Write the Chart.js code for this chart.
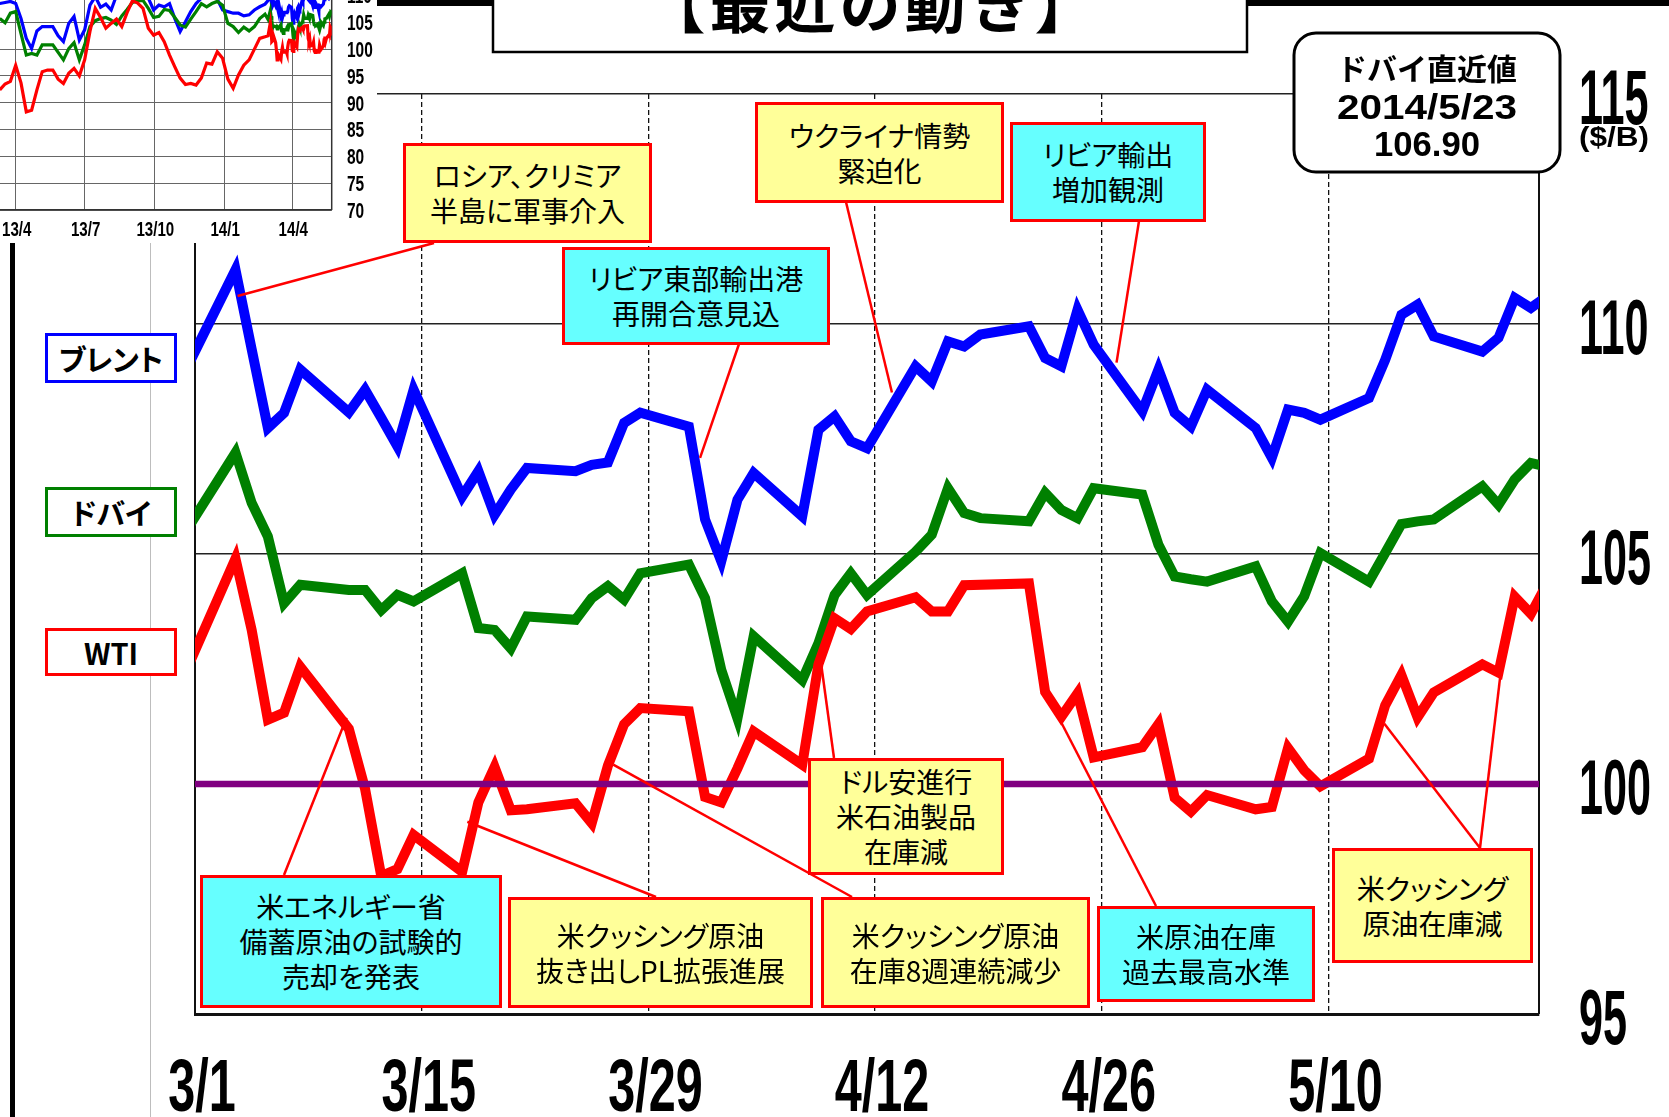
<!DOCTYPE html>
<html lang="ja"><head><meta charset="utf-8">
<script src="https://cdn.jsdelivr.net/npm/chart.js@4.4.1/dist/chart.umd.min.js"></script>
<style>
*{box-sizing:border-box}
html,body{margin:0;padding:0;background:#fff}
body{width:1669px;height:1117px;position:relative;overflow:hidden;font-family:"Noto Sans CJK JP","Noto Sans",sans-serif;}
#mainCanvas{position:absolute;left:0;top:0;z-index:0}
#insetBg{position:absolute;left:0;top:0;width:377px;height:243px;background:#fff;z-index:1}
#insetCanvas{position:absolute;left:-20px;top:-40px;z-index:2}
.vline{position:absolute;z-index:1}
.note{position:absolute;border:3px solid #ff0000;display:flex;flex-direction:column;align-items:center;justify-content:center;font-size:28px;line-height:35px;color:#000;font-feature-settings:"palt";z-index:3;white-space:nowrap}
.legend{position:absolute;left:45px;width:132px;border:3px solid;background:#fff;display:flex;align-items:center;justify-content:center;font-weight:bold;font-size:29px;font-feature-settings:"palt";z-index:3;color:#000}
</style></head><body>
<canvas id="mainCanvas" width="1669" height="1117"></canvas>
<div class="vline" style="left:10px;top:243px;width:5px;height:874px;background:#000"></div>
<div class="vline" style="left:150px;top:243px;width:1px;height:874px;background:#bdbdbd"></div>
<div id="insetBg"></div>
<canvas id="insetCanvas" width="420" height="290"></canvas>
<script>
// ---------------- data (main chart, 2014) ----------------
const dates = ['2/28','3/3','3/4','3/5','3/6','3/7','3/10','3/11','3/12','3/13','3/14','3/17','3/18','3/19','3/20','3/21','3/24','3/25','3/26','3/27','3/28','3/31','4/1','4/2','4/3','4/4','4/7','4/8','4/9','4/10','4/11','4/14','4/15','4/16','4/17','4/18','4/21','4/22','4/23','4/24','4/25','4/28','4/29','4/30','5/1','5/2','5/5','5/6','5/7','5/8','5/9','5/12','5/13','5/14','5/15','5/16','5/19','5/20','5/21','5/22','5/23'];
const brent = [109.05,
  111.18,109.45,107.74,108.07,109.01, 108.08,108.57,107.96,107.34,108.57, 106.25,106.80,105.85,106.40,106.87, 106.80,106.94,106.99,107.85,108.07, 107.77,
  105.75,104.84,106.18,106.76, 105.82,107.70,107.99,107.45,107.30, 109.08,108.75,109.62,109.51,109.77, 109.95,109.26,109.08,110.31,109.55, 108.10,109.01,108.07,
  107.77,108.57, 107.74,107.09,108.14,108.07,107.92, 108.39,109.22,110.20,110.42,109.73, 109.40,109.70,110.57,110.35,110.60];
const dubai = [105.53,
  107.20,106.11,105.38,103.93,104.33, 104.22,104.22,103.78,104.11,103.97, 104.58,103.39,103.35,102.95,103.64, 103.57,104.04,104.30,104.01,104.58, 104.77,
  104.04,102.48,101.43,103.21, 102.26,103.06,104.11,104.58,104.11, 105.05,105.42,106.43,105.89,105.78, 105.71,106.33,105.96,105.78,106.43, 106.29,105.20,104.51,
  104.45,104.40, 104.73,103.97,103.53,104.08,105.02, 104.40,105.02,105.65,105.71,105.75, 106.47,106.07,106.62,106.98,106.90];
const wti = [102.50,
  104.90,103.35,101.40,101.55,102.55, 101.20,99.90,98.00,98.15,98.89, 98.09,99.60,100.37,99.43,99.45, 99.58,99.15,100.40,101.30,101.65, 101.58,
  99.72,99.60,100.34,101.14, 100.42,102.60,103.60,103.37,103.75, 104.06,103.75,103.75,104.32,null, 104.36,102.00,101.46,101.97,100.58, 100.80,101.30,99.70,
  99.40,99.76, 99.45,99.50,100.78,100.30,99.95, 100.55,101.71,102.37,101.45,101.99, 102.60,102.42,104.07,103.70,104.35];
const seriesNames = ['ブレント','ドバイ','WTI'];
const baseLevel = 100;
const axisStart = '3/1', axisEnd = '5/23';
const xTickLabels = ['3/1','3/15','3/29','4/12','4/26','5/10'];
const yTickLabels = ['95','100','105','110','115'];
const unitLabel = '($/B)';
const titleText = '【最近の動き】';
const latestTitle = 'ドバイ直近値', latestDate = '2014/5/23', latestValue = '106.90';

// ---------------- data (inset, weekly 2013/3 - 2014/2, then daily above) ----------------
const insetDates = ['2013-03-11','2013-03-18','2013-03-25','2013-04-01','2013-04-08','2013-04-15','2013-04-22','2013-04-29','2013-05-06','2013-05-13',
  '2013-05-20','2013-05-27','2013-06-03','2013-06-10','2013-06-17','2013-06-24','2013-07-01','2013-07-08','2013-07-15','2013-07-22',
  '2013-07-29','2013-08-05','2013-08-12','2013-08-19','2013-08-26','2013-09-02','2013-09-09','2013-09-16','2013-09-23','2013-09-30',
  '2013-10-07','2013-10-14','2013-10-21','2013-10-28','2013-11-04','2013-11-11','2013-11-18','2013-11-25','2013-12-02','2013-12-09',
  '2013-12-16','2013-12-23','2013-12-30','2014-01-06','2014-01-13','2014-01-20','2014-01-27','2014-02-03','2014-02-10','2014-02-17','2014-02-24'];
const insetBrent = [108.5,108.7,108.9,108.5,105.7,102.0,100.1,103.4,104.2,104.2, 104.2,102.5,101.4,104.8,106.1,101.7,103.6,108.2,109.8,107.8,
  108.4,107.3,110.0,111.0,114.0,113.5,111.5,110.5,109.5,107.3, 108.2,107.9,108.5,105.7,103.3,105.1,107.0,108.5,109.5,110.2,
  110.2,109.3,107.3,107.0,106.7,106.7,106.2,106.4,107.3,107.9,108.4];
const insetDubai = [105.7,104.9,106.7,107.0,102.9,98.9,99.2,98.9,100.8,100.8, 100.8,99.4,98.0,100.1,101.2,98.0,100.8,104.2,105.3,105.7,
  105.9,105.4,104.6,106.2,107.4,108.7,109.0,109.1,107.6,105.9, 106.1,107.4,107.2,105.9,104.5,104.1,105.6,107.0,108.5,107.9,
  108.5,108.9,108.2,104.8,104.2,103.1,104.1,103.4,104.2,105.7,106.5];
const insetWti = [92.4,93.5,94.0,97.0,93.7,88.3,88.6,92.4,95.8,96.1, 96.1,94.4,93.6,95.5,96.4,95.0,98.0,103.3,107.6,105.9,
  103.9,104.8,105.6,104.2,106.8,109.0,108.6,107.6,103.9,102.6, 103.1,101.4,98.9,96.7,94.6,93.4,93.6,93.3,94.6,97.4,
  97.2,99.5,98.3,94.4,92.7,95.2,97.0,98.0,100.0,102.0,102.3];
const insetStart = '2013-03-01', insetEnd = '2014-05-23';
const insetXTickLabels = ['13/4','13/7','13/10','14/1','14/4'];
const insetYTickLabels = ['70','75','80','85','90','95','100','105','110'];

// ---------------- annotations (layout) ----------------
const notes = [
 {lines:['ロシア、クリミア','半島に軍事介入'], fill:'#ffff99', box:[403,143,249,100], from:[[434,243]], to:[[2.63,110.61]]},
 {lines:['リビア東部輸出港','再開合意見込'], fill:'#66ffff', box:[562,247,268,98], from:[[739,344]], to:[[31.19,107.09]]},
 {lines:['ウクライナ情勢','緊迫化'], fill:'#ffff99', box:[755,102,249,101], from:[[846,202]], to:[[43.04,108.51]]},
 {lines:['リビア輸出','増加観測'], fill:'#66ffff', box:[1010,122,196,100], from:[[1139,221]], to:[[56.91,109.16]]},
 {lines:['ドル安進行','米石油製品','在庫減'], fill:'#ffff99', box:[808,758,196,117], from:[[834,758]], to:[[38.66,102.63]]},
 {lines:['米エネルギー省','備蓄原油の試験的','売却を発表'], fill:'#66ffff', box:[200,875,302,133], from:[[284,875]], to:[[9.36,101.44]]},
 {lines:['米クッシング原油','抜き出しPL拡張進展'], fill:'#ffff99', box:[508,897,305,111], from:[[656,897]], to:[[16.82,99.18]]},
 {lines:['米クッシング原油','在庫8週連続減少'], fill:'#ffff99', box:[821,897,269,111], from:[[852,897]], to:[[25.83,100.42]]},
 {lines:['米原油在庫','過去最高水準'], fill:'#66ffff', box:[1097,906,218,96], from:[[1156,906]], to:[[53.33,101.45]]},
 {lines:['米クッシング','原油在庫減'], fill:'#ffff99', box:[1332,848,201,115], from:[[1480,848],[1480,848]], to:[[73.45,101.31],[80.73,102.71]]}
];
const legendLayout = [{top:333,h:50,color:'#0000ff'},{top:487,h:50,color:'#008000'},{top:628,h:48,color:'#ff0000'}];

// ---------------- helpers ----------------
const NUM_FONT = '"Liberation Sans", Arial, sans-serif';
const JP_FONT = '"Noto Sans CJK JP", sans-serif';
const dayNum = (y,m,d) => Date.UTC(y,m-1,d)/864e5;
const mainDay = s => { const [m,d] = s.split('/').map(Number); return dayNum(2014,m,d) - dayNum(2014,3,1); };
const isoDay = s => { const [y,m,d] = s.split('-').map(Number); return dayNum(y,m,d); };
const insetTickDay = s => { const [y,m] = s.split('/').map(Number); return dayNum(2000+y,m,1); };

function numText(ctx, text, x, cy, size, digitW, align, width) {
  ctx.save();
  ctx.font = 'bold ' + size + 'px ' + NUM_FONT;
  let sx = 1;
  if (digitW) sx = digitW / ctx.measureText('0').width;
  if (width) sx = width / ctx.measureText(text).width;
  const w = ctx.measureText(text).width * sx;
  const left = align === 'center' ? x - w/2 : align === 'right' ? x - w : x;
  ctx.translate(left, cy + 0.355*size);
  ctx.scale(sx, 1);
  ctx.textAlign = 'left'; ctx.textBaseline = 'alphabetic';
  ctx.fillStyle = '#000';
  ctx.fillText(text, 0, 0);
  ctx.restore();
}

// ---------------- main chart ----------------
const xMin = mainDay(axisStart), xMax = mainDay(axisEnd);
const pts = arr => dates.map((s,i) => ({x: mainDay(s) + 0.5, y: arr[i]}));

const mainDecor = {
  id: 'mainDecor',
  beforeDatasetsDraw(c) {
    const {ctx, chartArea: a} = c;
    ctx.save(); ctx.strokeStyle = '#111'; ctx.lineWidth = 2;
    ctx.beginPath(); ctx.moveTo(a.right, a.top); ctx.lineTo(a.right, a.bottom); ctx.stroke();
    ctx.restore();
  },
  afterDatasetsDraw(c) {
    const {ctx} = c, xs = c.scales.x, ys = c.scales.y;
    ctx.save(); ctx.strokeStyle = '#ff0000'; ctx.lineWidth = 2.5;
    notes.forEach(n => n.from.forEach((f,i) => {
      const t = n.to[i];
      ctx.beginPath(); ctx.moveTo(f[0], f[1]);
      ctx.lineTo(xs.getPixelForValue(t[0]), ys.getPixelForValue(t[1])); ctx.stroke();
    }));
    ctx.restore();
  },
  afterDraw(c) {
    const {ctx} = c, xs = c.scales.x, ys = c.scales.y;
    xTickLabels.forEach(l => numText(ctx, l, xs.getPixelForValue(mainDay(l)) + 7, 1085, 74, 27, 'center'));
    yTickLabels.forEach(l => numText(ctx, l, 1579, ys.getPixelForValue(Number(l)) + 3, 77, 24, 'left'));
    numText(ctx, unitLabel, 1614, 136, 27, 0, 'center', 70);
    // top thick rule
    ctx.save();
    ctx.fillStyle = '#000';
    ctx.fillRect(377, 0, 116, 6); ctx.fillRect(1247, 0, 422, 6);
    // title box
    ctx.fillStyle = '#fff'; ctx.fillRect(493, -3, 754, 55);
    ctx.strokeStyle = '#000'; ctx.lineWidth = 2.5; ctx.strokeRect(493, -3, 754, 55);
    ctx.fillStyle = '#000'; ctx.font = 'bold 61px ' + JP_FONT; ctx.textAlign = 'center'; ctx.textBaseline = 'alphabetic';
    if ('letterSpacing' in ctx) ctx.letterSpacing = '4px';
    ctx.fillText(titleText, 872, 28);
    if ('letterSpacing' in ctx) ctx.letterSpacing = '0px';
    // latest value box
    ctx.beginPath(); ctx.roundRect(1294, 33, 266, 139, 22);
    ctx.fillStyle = '#fff'; ctx.fill(); ctx.lineWidth = 3; ctx.strokeStyle = '#000'; ctx.stroke();
    ctx.fillStyle = '#000'; ctx.font = 'bold 30px ' + JP_FONT; ctx.textAlign = 'center';
    ctx.fillText(latestTitle, 1427, 80);
    ctx.restore();
    numText(ctx, latestDate, 1427, 107, 35, 0, 'center', 180);
    numText(ctx, latestValue, 1427, 144, 35, 0, 'center', 106);
  }
};

new Chart(document.getElementById('mainCanvas'), {
  type: 'line',
  data: { datasets: [
    {label: String(baseLevel), data: [{x: xMin, y: baseLevel}, {x: xMax, y: baseLevel}], borderColor: '#800080', borderWidth: 6.5},
    {label: seriesNames[2], data: pts(wti), borderColor: '#ff0000', borderWidth: 10, spanGaps: true},
    {label: seriesNames[1], data: pts(dubai), borderColor: '#008000', borderWidth: 10, spanGaps: true},
    {label: seriesNames[0], data: pts(brent), borderColor: '#0000ff', borderWidth: 10, spanGaps: true}
  ]},
  options: {
    responsive: false, animation: false, events: [],
    layout: {padding: {left: 195, right: 130, top: 94, bottom: 103}, autoPadding: false},
    plugins: {legend: {display: false}, tooltip: {enabled: false}},
    elements: {point: {radius: 0}, line: {tension: 0, borderJoinStyle: 'miter', fill: false}},
    scales: {
      x: {type: 'linear', min: xMin, max: xMax,
          afterBuildTicks: s => { s.ticks = xTickLabels.map(l => ({value: mainDay(l)})); },
          ticks: {display: false}, grid: {color: '#111', lineWidth: 1.3, drawTicks: false},
          border: {display: true, color: '#111', width: 3, dash: [5, 3]}},
      y: {type: 'linear', min: 95, max: 115,
          afterBuildTicks: s => { s.ticks = yTickLabels.map(l => ({value: Number(l)})); },
          ticks: {display: false}, grid: {color: '#222', lineWidth: 1.6, drawTicks: false},
          border: {display: true, color: '#111', width: 2}}
    }
  },
  plugins: [mainDecor]
});

// ---------------- inset chart ----------------
const insetX = insetDates.map(isoDay).concat(dates.map(s => { const [m,d] = s.split('/').map(Number); return dayNum(2014,m,d); }));
const ipts = (a, b) => insetX.map((x,i) => ({x, y: i < a.length ? a[i] : b[i - a.length]}));
const insetDecor = {
  id: 'insetDecor',
  beforeDatasetsDraw(c) {
    const {ctx, chartArea: a} = c;
    ctx.save(); ctx.strokeStyle = '#333'; ctx.lineWidth = 1.5;
    ctx.beginPath(); ctx.moveTo(a.right, a.top); ctx.lineTo(a.right, a.bottom); ctx.stroke(); ctx.restore();
  },
  afterDraw(c) {
    const {ctx} = c, xs = c.scales.x, ys = c.scales.y;
    insetYTickLabels.forEach(l => numText(ctx, l, 367, ys.getPixelForValue(Number(l)), 22, 8.6, 'left'));
    insetXTickLabels.forEach(l => numText(ctx, l, xs.getPixelForValue(insetTickDay(l)) + 1, 269, 21, 8.4, 'center'));
  }
};
new Chart(document.getElementById('insetCanvas'), {
  type: 'line',
  data: { datasets: [
    {data: ipts(insetWti, wti), borderColor: '#ff0000', borderWidth: 3.2, spanGaps: true},
    {data: ipts(insetDubai, dubai), borderColor: '#008000', borderWidth: 3.2, spanGaps: true},
    {data: ipts(insetBrent, brent), borderColor: '#0000ff', borderWidth: 3.2, spanGaps: true}
  ]},
  options: {
    responsive: false, animation: false, events: [],
    layout: {padding: {left: 12.2, right: 68.3, top: 8.7, bottom: 40}, autoPadding: false},
    plugins: {legend: {display: false}, tooltip: {enabled: false}},
    elements: {point: {radius: 0}, line: {tension: 0}},
    scales: {
      x: {type: 'linear', min: isoDay(insetStart), max: isoDay(insetEnd),
          afterBuildTicks: s => { s.ticks = insetXTickLabels.map(l => ({value: insetTickDay(l)})); },
          ticks: {display: false}, grid: {color: '#666', lineWidth: 1, drawTicks: false},
          border: {display: true, color: '#333', width: 1.5}},
      y: {type: 'linear', min: 70, max: 115,
          afterBuildTicks: s => { s.ticks = insetYTickLabels.map(l => ({value: Number(l)})).concat([{value: 115}]); },
          ticks: {display: false}, grid: {color: '#666', lineWidth: 1, drawTicks: false},
          border: {display: false}}
    }
  },
  plugins: [insetDecor]
});

// ---------------- HTML boxes ----------------
notes.forEach(n => {
  const d = document.createElement('div');
  d.className = 'note';
  d.style.left = n.box[0] + 'px'; d.style.top = n.box[1] + 'px';
  d.style.width = n.box[2] + 'px'; d.style.height = n.box[3] + 'px';
  d.style.background = n.fill;
  n.lines.forEach(t => { const s = document.createElement('div'); s.textContent = t; d.appendChild(s); });
  document.body.appendChild(d);
});
seriesNames.forEach((name, i) => {
  const d = document.createElement('div');
  d.className = 'legend';
  d.style.top = legendLayout[i].top + 'px'; d.style.height = legendLayout[i].h + 'px';
  d.style.borderColor = legendLayout[i].color;
  d.textContent = name;
  document.body.appendChild(d);
});
</script>
</body></html>
